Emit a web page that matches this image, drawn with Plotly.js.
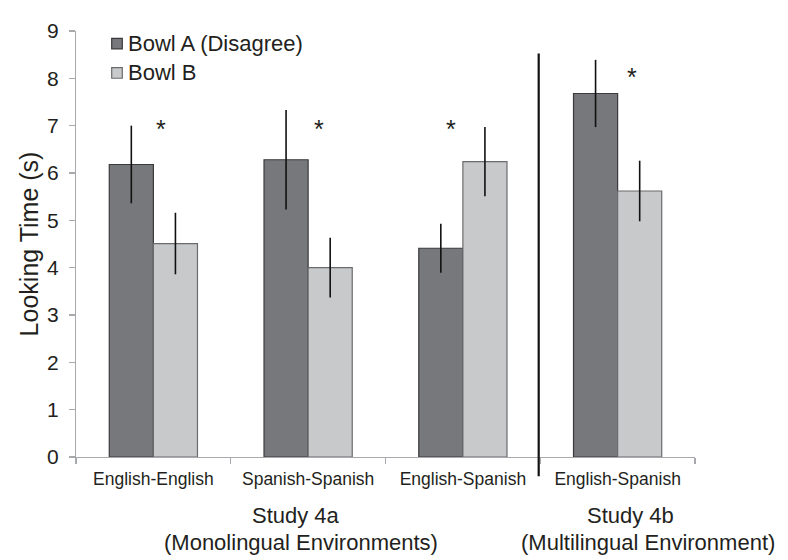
<!DOCTYPE html>
<html>
<head>
<meta charset="utf-8">
<script src="https://cdn.plot.ly/plotly-3.0.1.min.js"></script>
<style>html,body{margin:0;padding:0;background:#fff;}#chart{width:788px;height:560px;}</style>
</head>
<body>
<div id="chart"></div>
<script>
// ---- data ----
var categories = ["English-English", "Spanish-Spanish", "English-Spanish", "English-Spanish"];
var seriesNames = ["Bowl A (Disagree)", "Bowl B"];
var bowlA = [6.18, 6.28, 4.41, 7.68];
var bowlAErr = [0.82, 1.05, 0.52, 0.71];
var bowlB = [4.51, 4.00, 6.24, 5.62];
var bowlBErr = [0.65, 0.63, 0.73, 0.64];
var significant = [true, true, true, true];
var yTicks = [0, 1, 2, 3, 4, 5, 6, 7, 8, 9];

var xIdx = categories.map(function (_, i) { return i; });
var FONT = "Liberation Sans, Arial, sans-serif";
var TXT = "#231f20";
var colA = "#77787b", lineA = "#3a3a3c";
var colB = "#c8c9cb", lineB = "#6a6b6d";

var traceA = {
  type: "bar", name: seriesNames[0], x: xIdx, y: bowlA, showlegend: false,
  marker: { color: colA, line: { color: lineA, width: 1.2 } },
  error_y: { type: "data", array: bowlAErr, visible: true, color: "#111", thickness: 1.6, width: 0 }
};
var traceB = {
  type: "bar", name: seriesNames[1], x: xIdx, y: bowlB, showlegend: false,
  marker: { color: colB, line: { color: lineB, width: 1.2 } },
  error_y: { type: "data", array: bowlBErr, visible: true, color: "#111", thickness: 1.6, width: 0 }
};

// plot-area pixel geometry helpers (for paper-referenced decorations)
var L = 76, R = 695, T = 30.7, B = 457.3;
function px(x) { return (x - L) / (R - L); }
function py(y) { return (B - y) / (B - T); }

var starDx = [0.05, 0.07, -0.075, 0.09];
var starY = [6.93, 6.93, 6.93, 8.02];
var annotations = [];
significant.forEach(function (s, i) {
  if (!s) return;
  annotations.push({
    x: i + starDx[i], y: starY[i], xref: "x", yref: "y", text: "*", showarrow: false,
    font: { family: FONT, size: 25, color: TXT }, yanchor: "middle", xanchor: "center"
  });
});
function textAt(xp, yp, text, size, anchor) {
  annotations.push({
    x: xp, y: yp, xref: "paper", yref: "paper", text: text, showarrow: false,
    font: { family: FONT, size: size, color: TXT }, xanchor: anchor, yanchor: "middle"
  });
}
textAt(px(296), py(516), "Study 4a", 22, "center");
textAt(px(301), py(542.7), "(Monolingual Environments)", 22, "center");
textAt(px(630), py(516), "Study 4b", 22, "center");
textAt(px(647.5), py(542.7), "(Multilingual Environment)", 22, "center");

// legend (manual so the swatch/text spacing matches)
var shapes = [];
var legY = [43.3, 72.7], legFill = [colA, colB], legLine = [lineA, lineB];
seriesNames.forEach(function (n, i) {
  shapes.push({
    type: "rect", xref: "paper", yref: "paper",
    x0: px(111.7), x1: px(122.3), y0: py(legY[i] + 5.3), y1: py(legY[i] - 5.3),
    fillcolor: legFill[i], line: { color: legLine[i], width: 1.2 }
  });
  annotations.push({
    x: px(125.5), y: py(legY[i]), xref: "paper", yref: "paper", text: n, showarrow: false,
    font: { family: FONT, size: 22, color: TXT }, xanchor: "left", yanchor: "middle"
  });
});
shapes.push({
  type: "line", xref: "x", yref: "paper", x0: 2.49, x1: 2.49,
  y0: py(476.7), y1: py(53.3),
  line: { color: "#111", width: 2.2 }
});

var layout = {
  width: 788, height: 560,
  margin: { l: L, r: 788 - R, t: T, b: 560 - B },
  paper_bgcolor: "#fff", plot_bgcolor: "#fff",
  font: { family: FONT, color: TXT },
  barmode: "group", bargap: 0.43, bargroupgap: 0,
  showlegend: false,
  xaxis: {
    range: [-0.5, 3.5], tickmode: "array", tickvals: xIdx, ticktext: categories,
    ticks: "", showline: true, linecolor: "#a7a9ac", linewidth: 1.2,
    showgrid: false, zeroline: false, ticklabelstandoff: 6,
    tickfont: { family: FONT, size: 17.5, color: TXT },
    minor: { tickmode: "array", tickvals: [-0.5, 0.5, 1.5, 2.5, 3.5], ticks: "outside", ticklen: 6, tickcolor: "#a7a9ac", tickwidth: 1.2, showgrid: false }
  },
  yaxis: {
    range: [0, 9], tickmode: "array", tickvals: yTicks,
    ticks: "outside", ticklen: 6, tickcolor: "#a7a9ac", tickwidth: 1.2,
    showline: true, linecolor: "#a7a9ac", linewidth: 1.2,
    showgrid: false, zeroline: false, ticklabelstandoff: 6,
    tickfont: { family: FONT, size: 21, color: TXT },
    title: { text: "Looking Time (s)", font: { family: FONT, size: 25, color: TXT }, standoff: 1 }
  },
  shapes: shapes,
  annotations: annotations
};

Plotly.newPlot("chart", [traceA, traceB], layout, { displayModeBar: false, staticPlot: true });
</script>
</body>
</html>
